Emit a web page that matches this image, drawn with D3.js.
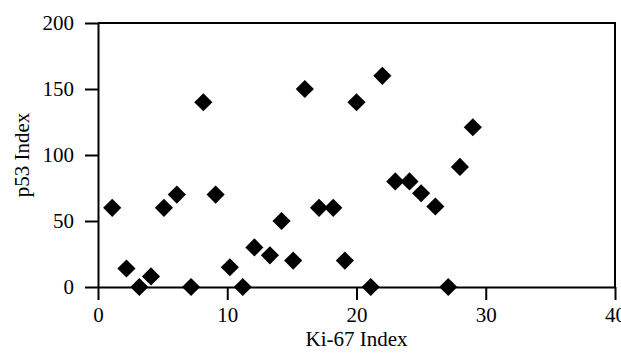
<!DOCTYPE html>
<html>
<head>
<meta charset="utf-8">
<script src="https://cdn.jsdelivr.net/npm/d3@7"></script>
<style>
  body { margin: 0; background: #fff; }
</style>
</head>
<body>
<div id="chart"></div>
<script>

// Ki-67 index vs p53 index
var ki67 = [1.1, 2.2, 3.2, 4.1, 5.1, 6.1, 7.2, 8.15, 9.1, 10.2, 11.2, 12.1, 13.3, 14.2, 15.1,
            16.0, 17.1, 18.2, 19.1, 20.0, 21.1, 22.0, 23.0, 24.1, 25.0, 26.1, 27.1, 28.0, 29.0];
var p53 = [60, 14, 0, 8, 60, 70, 0, 140, 70, 15, 0, 30, 24, 50, 20,
           150, 60, 60, 20, 140, 0, 160, 80, 80, 71, 61, 0, 91, 121];

var x_ticks = [0, 10, 20, 30, 40];
var y_ticks = [0, 50, 100, 150, 200];

var x_label = 'Ki-67 Index';
var y_label = 'p53 Index';

var font = 'Liberation Serif';
var font_size = '21px';

var W = 621, H = 356;
var margin = {top: 23, right: 6, bottom: 69, left: 98},
    width = W - margin.left - margin.right,
    height = H - margin.top - margin.bottom;

var x = d3.scaleLinear().domain([0, 40]).range([0, width]);
var y = d3.scaleLinear().domain([0, 200]).range([height, 0]);

var svg = d3.select('#chart').append('svg')
    .attr('width', W)
    .attr('height', H)
  .append('g')
    .attr('transform', 'translate(' + margin.left + ',' + margin.top + ')');

// frame (top + right)
svg.append('path')
    .attr('d', 'M0,0H' + width + 'V' + height)
    .attr('fill', 'none')
    .attr('stroke', '#000')
    .attr('stroke-width', 2);

// x axis
var xa = svg.append('g')
    .attr('transform', 'translate(0,' + height + ')')
    .call(d3.axisBottom(x).tickValues(x_ticks).tickSize(13).tickPadding(7).tickSizeOuter(0));

// y axis
var ya = svg.append('g')
    .call(d3.axisLeft(y).tickValues(y_ticks).tickSize(13).tickPadding(11).tickSizeOuter(0));

[xa, ya].forEach(function(a){
  a.attr('font-family', font).attr('font-size', font_size);
  a.select('.domain').attr('stroke-width', 2);
  a.selectAll('.tick line').attr('stroke-width', 2);
  a.selectAll('.tick text').attr('fill', '#000');
});

// points
var diamond = d3.symbol().type(d3.symbolDiamond2).size(210);
svg.selectAll('.pt')
    .data(ki67)
    .enter()
    .append('path')
    .attr('class', 'pt')
    .attr('transform', function(d, i){
      return 'translate(' + x(d) + ',' + y(p53[i]) + ')';
    })
    .attr('d', diamond)
    .attr('fill', '#000');

// axis titles
svg.append('text')
    .attr('x', width / 2)
    .attr('y', height + 59)
    .attr('text-anchor', 'middle')
    .attr('font-family', font)
    .attr('font-size', font_size)
    .text(x_label);

svg.append('text')
    .attr('transform', 'translate(' + (-margin.left + 29) + ',' + (height / 2) + ') rotate(-90)')
    .attr('text-anchor', 'middle')
    .attr('font-family', font)
    .attr('font-size', font_size)
    .text(y_label);

</script>
</body>
</html>
